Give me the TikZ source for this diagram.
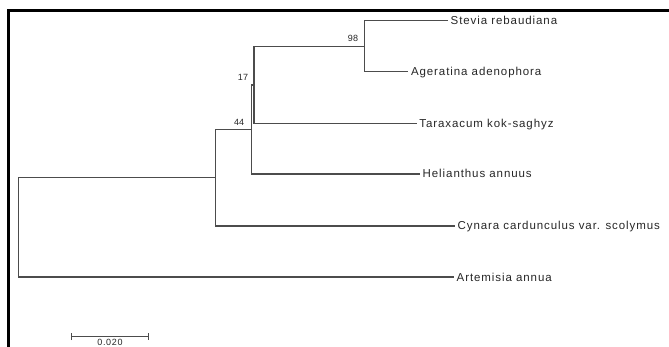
\documentclass[tikz,border=0pt]{standalone}
\usepackage{fontspec}
\usetikzlibrary{arrows.meta}
\setmainfont{Liberation Sans}
\newfontfamily\taxonfont[LetterSpace=8]{Liberation Sans}
\begin{document}
\begin{tikzpicture}[x=1pt,y=-1pt,
  branch/.style={draw=black!70, line width=1.2pt},
  taxon/.style={font=\taxonfont\fontsize{11.5}{13}\selectfont, anchor=west,
    inner xsep=2.5pt, inner ysep=0pt, text height=8pt, text depth=0pt, text=black!85},
  support/.style={font=\fontsize{9}{10}\selectfont, inner sep=0pt, text=black!85}]
\useasboundingbox (0,0) rectangle (669,347);
% frame
\draw[line width=2.6pt] (672,10.5) -- (8.7,10.5) -- (8.7,350);

% taxa
\node[taxon] (stevia)     at (448,20.7)  {Stevia rebaudiana};
\node[taxon] (ageratina)  at (408.3,71.7) {Ageratina adenophora};
\node[taxon] (taraxacum)  at (416.7,123.3) {Taraxacum kok-saghyz};
\node[taxon] (helianthus) at (420,174)   {Helianthus annuus};
\node[taxon] (cynara)     at (455,226)   {Cynara cardunculus var. scolymus};
\node[taxon] (artemisia)  at (454,277)   {Artemisia annua};

% internal nodes
\coordinate (root) at (18.3,227);
\coordinate (n1)   at (215.7,177.5);
\coordinate (n44)  at (251.7,129.5);
\coordinate (n17)  at (254,85);
\coordinate (n98)  at (364.3,46.5);

% branches
\draw[branch] (root) |- (n1);
\draw[branch] (root) |- (artemisia.west);
\draw[branch] (n1) |- (n44);
\draw[branch] (n1) |- (cynara.west);
\draw[branch] (n44) |- (n17);
\draw[branch] (n44) |- (helianthus.west);
\draw[branch] (n17) |- (n98);
\draw[branch] (n17) |- (taraxacum.west);
\draw[branch] (n98) |- (stevia.west);
\draw[branch] (n98) |- (ageratina.west);

% bootstrap values
\node[support] (b98) at (353,38.3)  {98};
\node[support] (b17) at (243,77.3)  {17};
\node[support] (b44) at (239.2,122.3) {44};

% scale bar
\coordinate (sbl) at (71,336.7);
\coordinate (sbr) at (149,336.7);
\draw[branch, {Bar[width=7pt]}-{Bar[width=7pt]}] (sbl) -- (sbr);
\node[support, anchor=base, font=\taxonfont\fontsize{9}{10}\selectfont] (sblabel) at (110,345.8) {0.020};
\end{tikzpicture}
\end{document}
